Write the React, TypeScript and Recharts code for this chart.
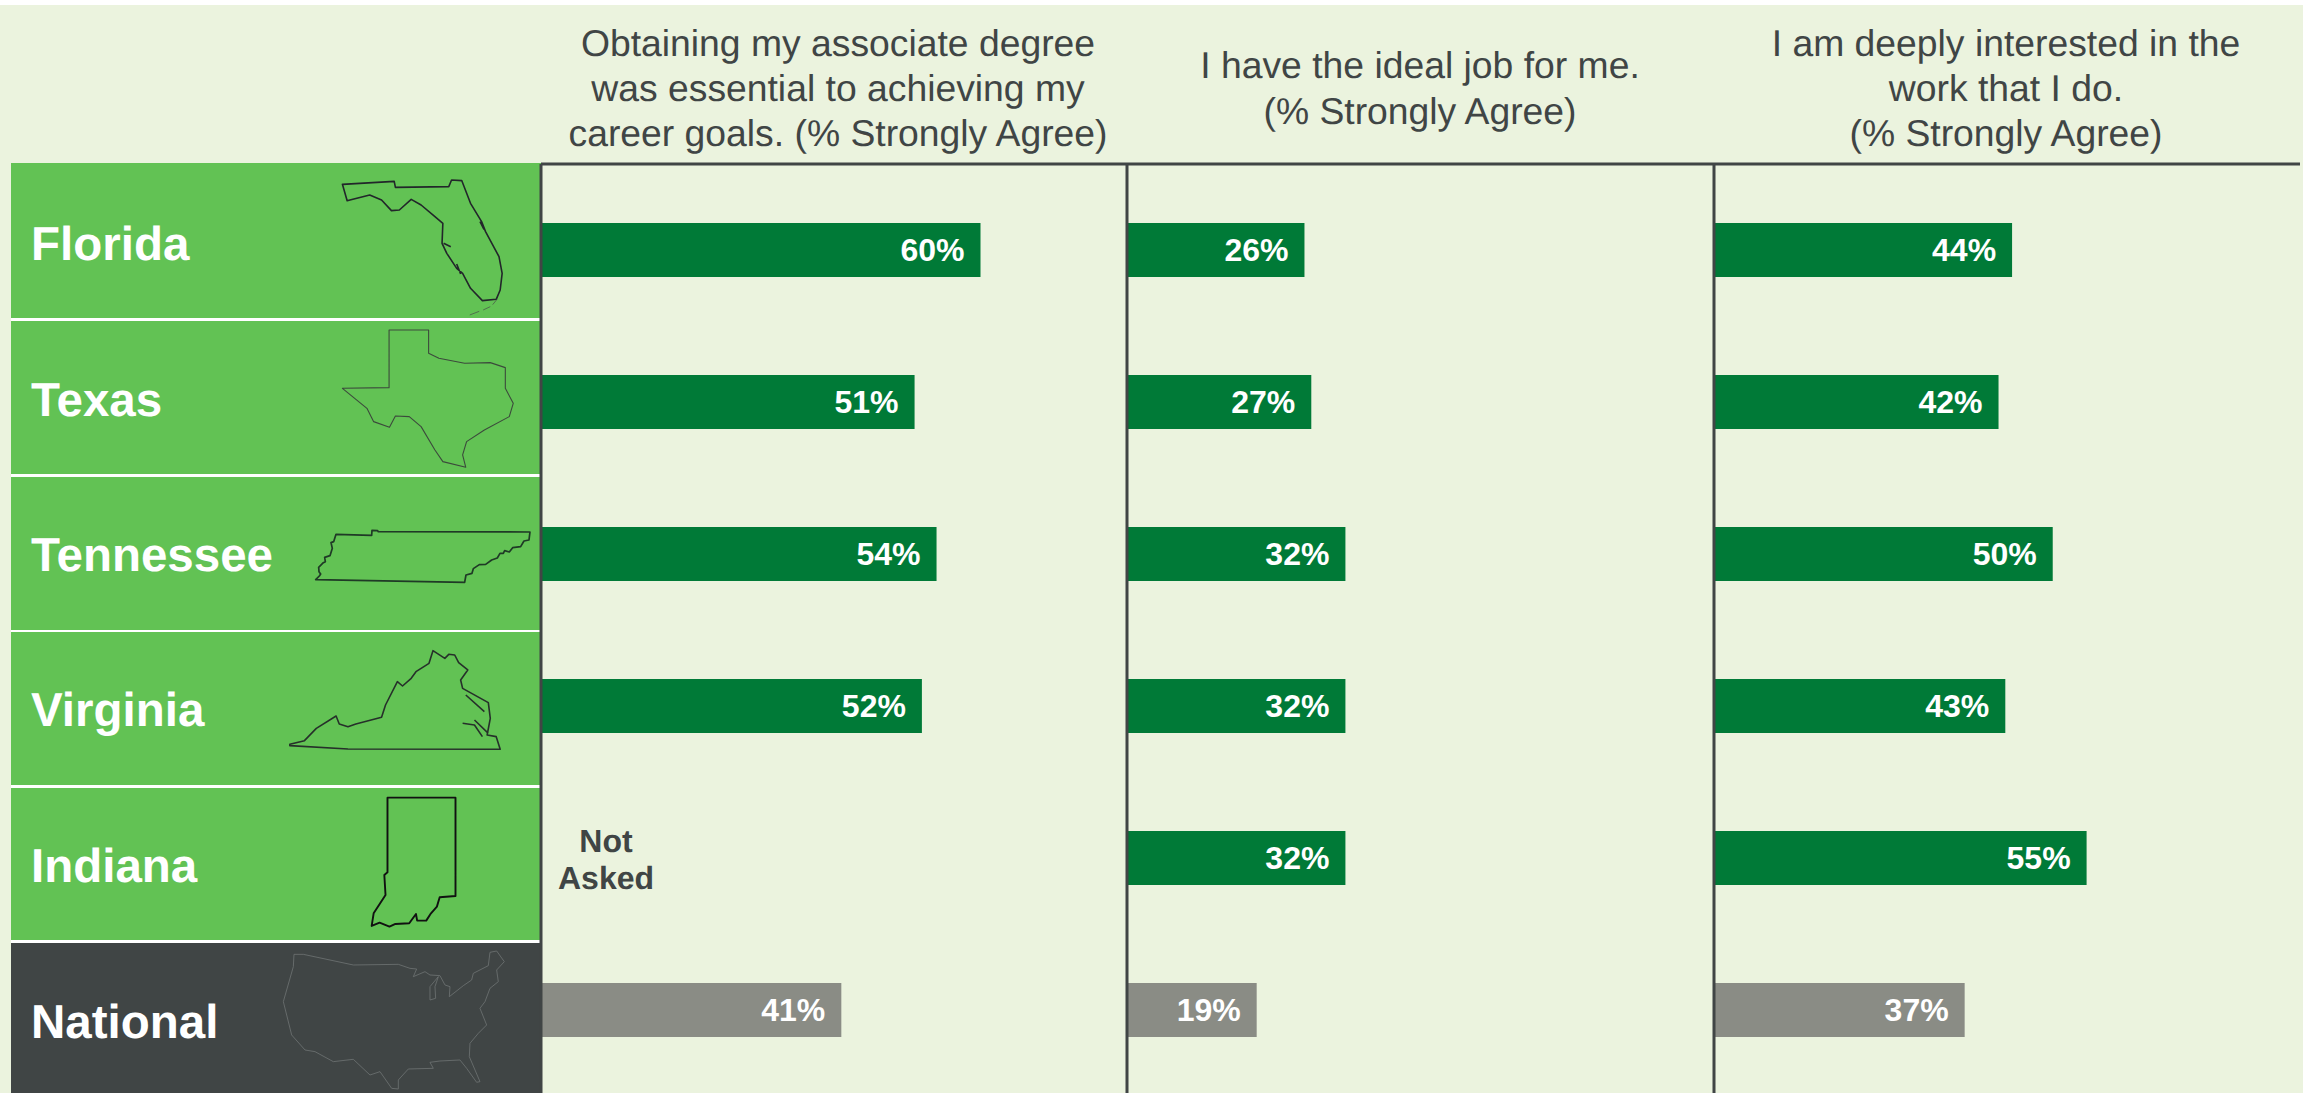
import { BarChart, Bar, XAxis, YAxis, Cell, LabelList } from "recharts";

const states = ["Florida", "Texas", "Tennessee", "Virginia", "Indiana", "National"];
const essentialGoals = [60, 51, 54, 52, null, 41];
const idealJob = [26, 27, 32, 32, 32, 19];
const deeplyInterested = [44, 42, 50, 43, 55, 37];

const rowTops = [163, 321, 477, 632, 788, 943];
const rowBottoms = [318, 474, 630, 785, 940, 1093];
const rowBaselines = [260, 416, 571, 726, 882, 1038];

const INK = "#404545";
const PALE = "#ebf3de";
const ROW_GREEN = "#62c254";
const BAR_GREEN = "#007a37";
const BAR_GREY = "#8a8c85";
const FONT = '"Liberation Sans", Arial, sans-serif';

const PLOT_TOP = 164;
const PLOT_HEIGHT = 929;
const AXIS_GUTTER = 3;

const panels = [
  { key: "essential", left: 541, width: 586, max: 80, values: essentialGoals },
  { key: "ideal", left: 1127, width: 587, max: 86, values: idealJob },
  { key: "interested", left: 1714, width: 586, max: 86.5, values: deeplyInterested },
];

const headers = [
  { x: 838, lines: ["Obtaining my associate degree", "was essential to achieving my", "career goals. (% Strongly Agree)"], baselines: [56, 101, 146] },
  { x: 1420, lines: ["I have the ideal job for me.", "(% Strongly Agree)"], baselines: [78, 124] },
  { x: 2006, lines: ["I am deeply interested in the", "work that I do.", "(% Strongly Agree)"], baselines: [56, 101, 146] },
];

// state outlines, each with its own placement transform
const outlines = [
  {
    name: "florida",
    transform: "translate(0,140) scale(0.3954,0.3333)",
    stroke: "#22262a",
    width: 1.6,
    d: "M866,133 L997,124 L1000,142 L1135,140 L1142,120 L1168,122 L1190,190 L1218,245 L1228,275 L1262,350 L1270,400 L1265,450 L1255,478 L1220,482 L1190,445 L1170,400 L1155,385 L1130,340 L1118,310 L1120,250 L1100,230 L1065,195 L1040,178 L1010,210 L990,212 L965,180 L935,165 L885,180 L878,182 Z M1214,245 L1224,268 M1122,310 L1140,320 M1155,372 L1165,402",
  },
  {
    name: "florida-keys",
    transform: "translate(0,140) scale(0.3954,0.3333)",
    stroke: "#4c5a4c",
    width: 0.8,
    d: "M1188,525 L1212,514 M1222,510 L1240,500 M1246,494 L1257,478",
  },
  {
    name: "texas",
    transform: "translate(0,140) scale(0.3954,0.3333)",
    stroke: "#3c4a3c",
    width: 1.1,
    d: "M984,570 L1084,570 L1084,640 L1110,655 L1175,670 L1240,668 L1278,683 L1278,745 L1298,790 L1288,830 L1225,870 L1180,905 L1170,945 L1178,982 L1120,965 L1100,930 L1065,860 L1035,830 L1000,828 L985,862 L945,845 L928,805 L866,745 L984,743 Z",
  },
  {
    name: "tennessee",
    transform: "translate(300,510) scale(0.3333,0.3333)",
    stroke: "#1f3a26",
    width: 1.7,
    d: "M47,209 L58,198 L62,192 L57,185 L56,172 L70,158 L76,155 L74,142 L90,137 L97,115 L93,98 L101,95 L108,73 L215,76 L216,61 L233,62 L235,65 L690,66 L687,90 L672,93 L662,110 L638,113 L628,126 L614,122 L610,130 L600,130 L592,144 L575,150 L557,163 L538,164 L520,176 L516,190 L498,195 L494,217 Z",
  },
  {
    name: "virginia",
    transform: "translate(0,620) scale(0.3954,0.3333)",
    stroke: "#26302a",
    width: 1.6,
    d: "M733,373 L770,362 L800,325 L850,288 L858,312 L880,320 L900,312 L965,292 L975,255 L1005,185 L1018,198 L1040,175 L1052,155 L1085,130 L1095,92 L1125,115 L1135,103 L1150,105 L1160,128 L1183,150 L1165,180 L1170,205 L1235,248 L1240,295 L1232,345 L1255,350 L1265,388 L880,387 L733,377 Z M1178,225 L1225,275 M1170,310 L1200,315 L1220,350 M1200,300 L1235,340",
  },
  {
    name: "indiana",
    transform: "translate(0,620) scale(0.3954,0.3333)",
    stroke: "#111",
    width: 1.9,
    d: "M980,533 L1152,533 L1152,828 L1112,832 L1105,860 L1090,880 L1078,902 L1055,902 L1052,882 L1035,910 L1000,912 L985,920 L960,908 L940,918 L945,880 L975,825 L972,765 L980,757 Z",
  },
  {
    name: "usa",
    transform: "translate(270,945) scale(0.3333,0.3333)",
    stroke: "#6f7473",
    width: 0.8,
    d: "M72,28 L100,28 L250,60 L385,58 L420,70 L440,72 L430,95 L465,80 L480,90 L510,92 L525,120 L540,125 L538,155 L580,122 L605,105 L610,85 L655,62 L660,22 L680,18 L703,50 L680,75 L685,110 L660,130 L645,170 L630,190 L650,240 L625,265 L600,295 L598,335 L630,410 L620,412 L590,370 L570,345 L510,348 L480,352 L490,370 L415,372 L385,405 L385,432 L365,430 L330,380 L300,390 L250,343 L190,350 L135,320 L105,315 L65,270 L40,170 L70,65 Z M505,95 L480,125 L480,165 L497,160 L495,125 L505,95",
  },
];

function PanelChart({ left, width, max, values }: { left: number; width: number; max: number; values: (number | null)[] }) {
  const data = states.map((state, i) => ({ state, value: values[i] }));
  return (
    <div style={{ position: "absolute", left: left - AXIS_GUTTER, top: PLOT_TOP - AXIS_GUTTER }}>
      <BarChart
        layout="vertical"
        width={width + AXIS_GUTTER}
        height={PLOT_HEIGHT + AXIS_GUTTER}
        data={data}
        margin={{ top: AXIS_GUTTER - 1, right: 0, bottom: 0, left: AXIS_GUTTER - 1 }}
      >
        <XAxis
          type="number"
          orientation="top"
          domain={[0, max]}
          height={1}
          tick={false}
          tickLine={false}
          axisLine={{ stroke: INK, strokeWidth: 3 }}
        />
        <YAxis
          type="category"
          dataKey="state"
          width={1}
          tick={false}
          tickLine={false}
          padding={{ top: 10, bottom: 7 }}
          axisLine={{ stroke: INK, strokeWidth: 3 }}
        />
        <Bar dataKey="value" barSize={54} isAnimationActive={false}>
          {data.map((d) => (
            <Cell key={d.state} fill={d.state === "National" ? BAR_GREY : BAR_GREEN} />
          ))}
          <LabelList
            dataKey="value"
            position="insideRight"
            offset={16}
            formatter={(v: number) => `${v}%`}
            style={{ fill: "#fff", fontFamily: FONT, fontSize: 32, fontWeight: 700 }}
          />
        </Bar>
      </BarChart>
    </div>
  );
}

export default function App() {
  return (
    <div style={{ position: "absolute", left: 0, top: 0, width: 2303, height: 1093, background: "#fff", overflow: "hidden" }}>
      <svg
        width={2303}
        height={1093}
        style={{ position: "absolute", left: 0, top: 0, textRendering: "geometricPrecision" }}
        fontFamily={FONT}
      >
        <rect x={0} y={5} width={2303} height={1088} fill={PALE} />
        {states.map((state, i) => (
          <g key={state}>
            <rect x={11} y={rowTops[i]} width={530} height={rowBottoms[i] - rowTops[i]} fill={state === "National" ? INK : ROW_GREEN} />
            {i > 0 && <rect x={11} y={rowBottoms[i - 1]} width={531} height={rowTops[i] - rowBottoms[i - 1]} fill="#fff" />}
            <text x={31} y={rowBaselines[i]} fill="#fff" fontSize={47.5} fontWeight={700}>
              {state}
            </text>
          </g>
        ))}
        {outlines.map((o) => (
          <path
            key={o.name}
            d={o.d}
            transform={o.transform}
            fill="none"
            stroke={o.stroke}
            strokeWidth={o.width}
            strokeLinejoin="round"
            vectorEffect="non-scaling-stroke"
          />
        ))}
        {headers.map((h) =>
          h.lines.map((line, i) => (
            <text key={line} x={h.x} y={h.baselines[i]} textAnchor="middle" fill={INK} fontSize={37.3}>
              {line}
            </text>
          ))
        )}
        <g fill={INK} fontSize={32} fontWeight={700} textAnchor="middle">
          <text x={606} y={852}>Not</text>
          <text x={606} y={889}>Asked</text>
        </g>
      </svg>
      {panels.map((p) => (
        <PanelChart key={p.key} left={p.left} width={p.width} max={p.max} values={p.values} />
      ))}
    </div>
  );
}
